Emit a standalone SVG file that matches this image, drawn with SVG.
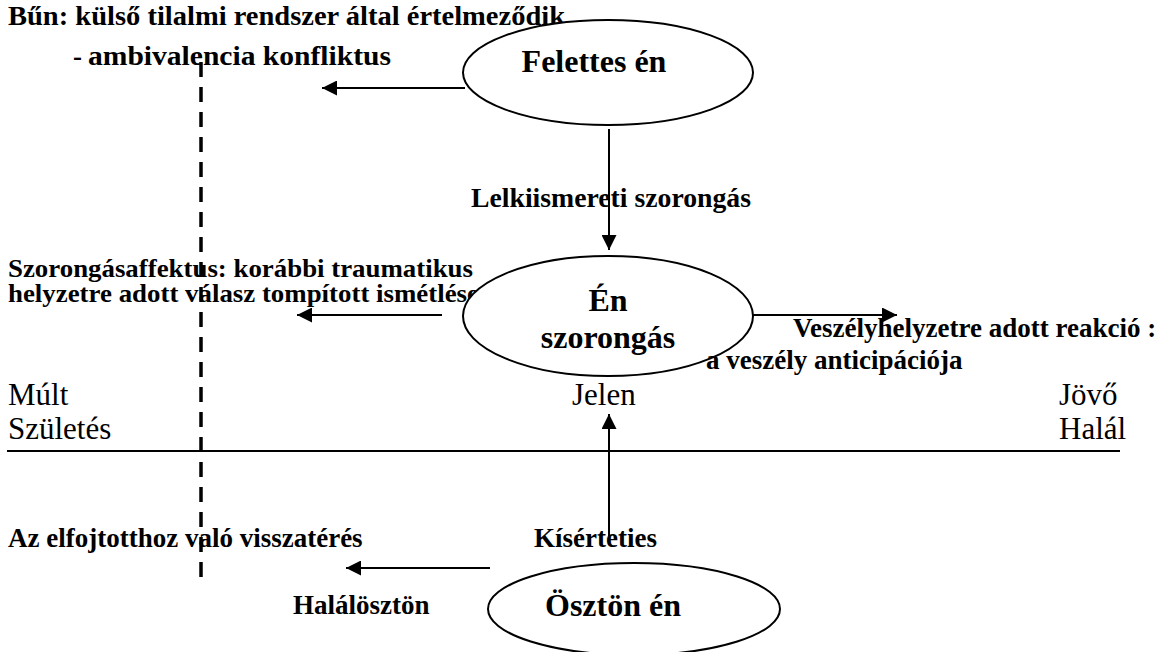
<svg xmlns="http://www.w3.org/2000/svg" width="1158" height="652" viewBox="0 0 1158 652">
<style>
.b{font-family:"Liberation Serif","Times New Roman",serif;font-weight:bold;font-size:27px;fill:#000}
.s{font-size:25px}
.big{font-family:"Liberation Serif","Times New Roman",serif;font-weight:bold;font-size:32px;fill:#000;text-anchor:middle}
.r{font-family:"Liberation Serif","Times New Roman",serif;font-size:31px;fill:#000}
.node{fill:#fff;stroke:#000;stroke-width:2}
.arr{stroke:#000;stroke-width:2;fill:none;marker-end:url(#ah)}
</style>
<defs>
<marker id="ah" markerUnits="userSpaceOnUse" markerWidth="15" markerHeight="15" refX="15" refY="7.5" orient="auto">
<path d="M0,0 L15,7.5 L0,15 z" fill="#000"/>
</marker>
</defs>
<rect width="1158" height="652" fill="#fff"/>
<g id="labels-under">
<text class="b" x="8" y="25" textLength="557" lengthAdjust="spacingAndGlyphs">Bűn: külső tilalmi rendszer által értelmeződik</text>
<text class="b" x="73" y="65">-</text>
<text class="b" x="88" y="65" textLength="303" lengthAdjust="spacingAndGlyphs">ambivalencia konfliktus</text>
<text class="b" x="471" y="207" textLength="280" lengthAdjust="spacingAndGlyphs">Lelkiismereti szorongás</text>
<text class="b s" x="8" y="277" textLength="465" lengthAdjust="spacingAndGlyphs">Szorongásaffektus: korábbi traumatikus</text>
<text class="b s" x="8" y="302" textLength="471" lengthAdjust="spacingAndGlyphs">helyzetre adott válasz tompított ismétlése</text>
<text class="b" x="8" y="547">Az elfojtotthoz való visszatérés</text>
<text class="b" x="534" y="547">Kísérteties</text>
<text class="b" x="293" y="614">Halálösztön</text>
</g>
<g id="timeline">
<line x1="201" y1="62" x2="201" y2="584" stroke="#000" stroke-width="3.5" stroke-dasharray="15 10"/>
<line x1="7" y1="451" x2="1120" y2="451" stroke="#000" stroke-width="2"/>
<text class="r" x="8" y="405">Múlt</text>
<text class="r" x="8" y="439">Születés</text>
<text class="r" x="572" y="405">Jelen</text>
<text class="r" x="1059" y="405">Jövő</text>
<text class="r" x="1059" y="439">Halál</text>
</g>
<g id="connectors">
<line class="arr" x1="465" y1="88" x2="322" y2="88"/>
<line class="arr" x1="609" y1="129" x2="609" y2="250"/>
<line class="arr" x1="442" y1="315" x2="297" y2="315"/>
<line class="arr" x1="753" y1="315" x2="897" y2="315"/>
<line class="arr" x1="609" y1="536" x2="609" y2="414"/>
<line class="arr" x1="490" y1="568" x2="346" y2="568"/>
</g>
<g id="felettes-en">
<ellipse class="node" cx="608" cy="72.5" rx="145" ry="52.5"/>
<text class="big" x="594" y="72">Felettes én</text>
</g>
<g id="en-szorongas">
<ellipse class="node" cx="608" cy="316" rx="145" ry="60"/>
<text class="big" x="608" y="311">Én</text>
<text class="big" x="608" y="348">szorongás</text>
</g>
<g id="osztonen">
<ellipse class="node" cx="634" cy="609" rx="146" ry="46"/>
<text class="big" x="613" y="616">Ösztön én</text>
</g>
<g id="labels-over">
<text class="b" x="793" y="337">Veszélyhelyzetre adott reakció :</text>
<text class="b" x="706" y="369">a veszély anticipációja</text>
</g>
</svg>
